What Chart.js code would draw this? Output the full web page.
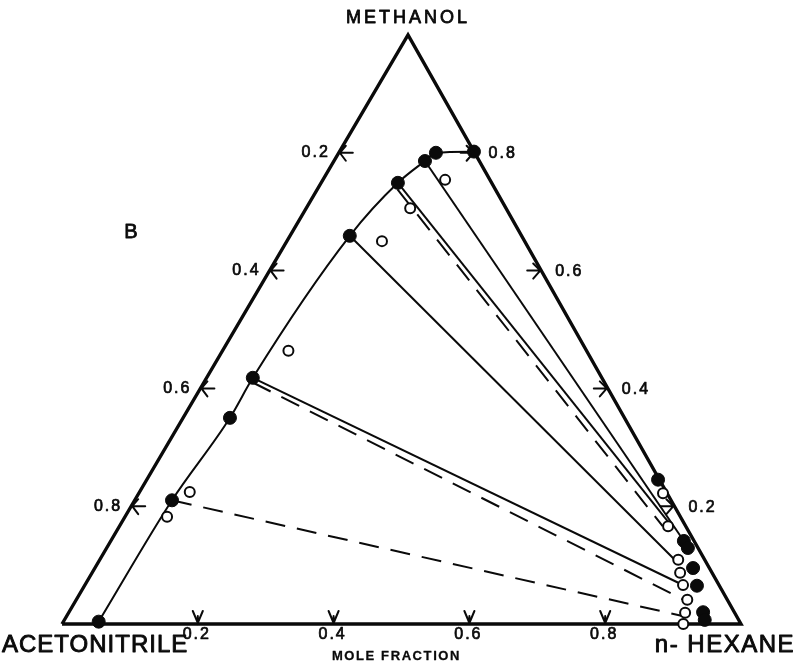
<!DOCTYPE html>
<html>
<head>
<meta charset="utf-8">
<script src="https://cdn.jsdelivr.net/npm/chart.js@4.4.0/dist/chart.umd.min.js"></script>
<style>
  html, body { margin: 0; padding: 0; background: #fff; }
  canvas { display: block; }
</style>
</head>
<body>
<canvas id="tern" width="796" height="671"></canvas>
<script>
// Compositions are [n-hexane, methanol] mole fractions; acetonitrile = 1 - both.

// acetonitrile-rich phase (binodal, left branch)
const acnPhaseExp = [
  [0.052, 0.004], [0.055, 0.210], [0.069, 0.350], [0.068, 0.418],
  [0.088, 0.659], [0.113, 0.749], [0.134, 0.786], [0.143, 0.800], [0.198, 0.802]
];
// hexane-rich phase (right branch)
const hexPhaseExp = [
  [0.753, 0.245], [0.844, 0.141], [0.856, 0.129], [0.881, 0.095],
  [0.902, 0.065], [0.934, 0.020], [0.943, 0.007]
];
// calculated phase compositions
const acnPhaseCalc = [
  [0.062, 0.182], [0.074, 0.224], [0.097, 0.464], [0.140, 0.650], [0.153, 0.706], [0.180, 0.754]
];
const hexPhaseCalc = [
  [0.772, 0.222], [0.808, 0.166], [0.852, 0.109], [0.866, 0.087],
  [0.881, 0.066], [0.900, 0.041], [0.908, 0.019], [0.915, 0.000]
];
// tie lines: [acetonitrile-phase end, hexane-phase end]
const tieLinesExp = [
  [[0.134, 0.786], [0.844, 0.141]],
  [[0.113, 0.749], [0.806, 0.172]],
  [[0.088, 0.659], [0.851, 0.106]],
  [[0.068, 0.418], [0.872, 0.070]]
];
const tieLinesCalc = [
  [[0.118, 0.738], [0.800, 0.166]],
  [[0.072, 0.410], [0.895, 0.041]],
  [[0.055, 0.210], [0.905, 0.014]]
];
const tickValues = [0.2, 0.4, 0.6, 0.8];
const tickLabels = ['0.2', '0.4', '0.6', '0.8'];
const vertexNames = { top: 'METHANOL', left: 'ACETONITRILE', right: 'n- HEXANE' };
const axisTitle = 'MOLE FRACTION';
const panelLabel = 'B';

// triangle geometry in plot units (base = 1)
const APEX_X = 0.5096;
const APEX_Y = 0.8675;
function toXY(c) {
  return { x: c[0] + c[1] * APEX_X, y: c[1] * APEX_Y };
}
const triangle = [[0, 0], [1, 0], [0, 1], [0, 0]].map(toXY);

const INK = '#0a0a0a';
const datasets = [];

// markers on top
datasets.push({
  type: 'scatter', order: 0,
  data: acnPhaseExp.concat(hexPhaseExp).map(toXY),
  pointRadius: 6.5, pointBackgroundColor: INK, pointBorderColor: INK, pointBorderWidth: 1
});
datasets.push({
  type: 'scatter', order: 0,
  data: acnPhaseCalc.concat(hexPhaseCalc).map(toXY),
  pointRadius: 5, pointBackgroundColor: '#fff', pointBorderColor: INK, pointBorderWidth: 2
});
// binodal curve
datasets.push({
  type: 'line', order: 1,
  data: acnPhaseExp.map(toXY),
  borderColor: INK, borderWidth: 2, cubicInterpolationMode: 'monotone', pointRadius: 0, fill: false
});
tieLinesExp.forEach(t => datasets.push({
  type: 'line', order: 1, data: t.map(toXY),
  borderColor: INK, borderWidth: 2, pointRadius: 0, fill: false
}));
tieLinesCalc.forEach(t => datasets.push({
  type: 'line', order: 1, data: t.map(toXY),
  borderColor: INK, borderWidth: 2, borderDash: [20, 12], pointRadius: 0, fill: false
}));
// triangle frame
datasets.push({
  type: 'line', order: 2, data: triangle,
  borderColor: INK, borderWidth: 3.4, pointRadius: 0, fill: false, borderJoinStyle: 'miter'
});

// lettering drawn with a thin outline for a heavier stroke
function txt(ctx, s, x, y, font, align, spacing, weight) {
  ctx.font = font;
  ctx.textAlign = align;
  ctx.textBaseline = 'middle';
  ctx.letterSpacing = (spacing || 0) + 'px';
  ctx.fillText(s, x, y);
  ctx.lineWidth = weight || 0.7;
  ctx.lineJoin = 'round';
  ctx.strokeText(s, x, y);
}

const ternaryDecor = {
  id: 'ternaryDecor',
  afterDatasetsDraw(chart) {
    const ctx = chart.ctx;
    const sx = chart.scales.x, sy = chart.scales.y;
    const px = c => { const p = toXY(c); return [sx.getPixelForValue(p.x), sy.getPixelForValue(p.y)]; };
    ctx.save();
    ctx.strokeStyle = INK;
    ctx.fillStyle = INK;
    ctx.lineCap = 'round';
    const tickFont = '16px "Liberation Sans", Arial, sans-serif';
    const tick = path => { ctx.lineWidth = 2; ctx.beginPath(); path(); ctx.stroke(); };

    tickValues.forEach((t, i) => {
      // bottom edge: n-hexane fraction
      let [x, y] = px([t, 0]);
      tick(() => {
        ctx.moveTo(x - 5, y - 13); ctx.lineTo(x, y - 1); ctx.lineTo(x + 5, y - 13);
        ctx.moveTo(x, y - 1); ctx.lineTo(x, y - 8);
      });
      txt(ctx, tickLabels[i], x - 1, y + 11, tickFont, 'center', 2);

      // left edge: acetonitrile fraction
      [x, y] = px([0, 1 - t]);
      tick(() => {
        ctx.moveTo(x + 7, y - 7); ctx.lineTo(x + 1, y); ctx.lineTo(x + 7, y + 8);
        ctx.moveTo(x + 1, y); ctx.lineTo(x + 14, y);
      });
      txt(ctx, tickLabels[i], x - 9, y, tickFont, 'right', 2);

      // right edge: methanol fraction
      [x, y] = px([1 - t, t]);
      tick(() => {
        ctx.moveTo(x - 8, y - 7); ctx.lineTo(x - 1, y); ctx.lineTo(x - 8, y + 8);
        ctx.moveTo(x - 1, y); ctx.lineTo(x - 14, y);
      });
      txt(ctx, tickLabels[i], x + 14, y + 1, tickFont, 'left', 2);
    });

    // vertex names
    let [x, y] = px([0, 1]);
    txt(ctx, vertexNames.top, x, y - 17, '18px "Liberation Sans", Arial, sans-serif', 'center', 3, 0.8);
    [x, y] = px([0, 0]);
    txt(ctx, vertexNames.left, 2, y + 21, '24px "Liberation Sans", Arial, sans-serif', 'left', 1, 0.9);
    [x, y] = px([1, 0]);
    txt(ctx, vertexNames.right, 795, y + 21, '24px "Liberation Sans", Arial, sans-serif', 'right', 1.5, 0.9);
    // axis title under the base
    [x, y] = px([0.5, 0]);
    txt(ctx, axisTitle, x - 5, y + 32, 'bold 13px "Liberation Sans", Arial, sans-serif', 'center', 1.6, 0.3);
    // panel letter
    txt(ctx, panelLabel, 131, 232, '20px "Liberation Sans", Arial, sans-serif', 'center', 0, 0.8);
    ctx.restore();
  }
};

new Chart(document.getElementById('tern'), {
  type: 'scatter',
  data: { datasets },
  options: {
    responsive: false,
    animation: false,
    events: [],
    layout: { padding: 0, autoPadding: false },
    plugins: { legend: { display: false }, tooltip: { enabled: false } },
    scales: {
      x: { type: 'linear', display: false, min: -62 / 679, max: 734 / 679 },
      y: { type: 'linear', display: false, min: -47 / 679, max: 624 / 679 }
    }
  },
  plugins: [ternaryDecor]
});
</script>
</body>
</html>
